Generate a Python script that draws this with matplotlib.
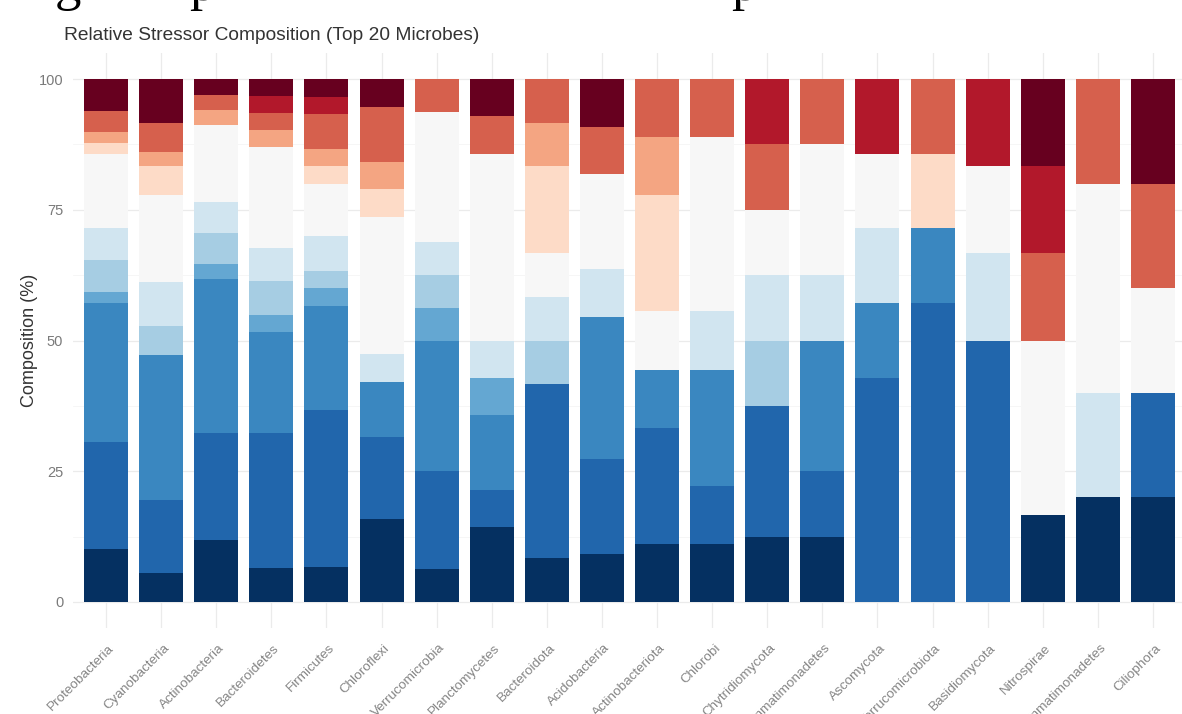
import numpy as np
import matplotlib
matplotlib.use("Agg")
import matplotlib.pyplot as plt
from matplotlib.transforms import blended_transform_factory, ScaledTranslation

microbes = ["Proteobacteria", "Cyanobacteria", "Actinobacteria", "Bacteroidetes",
            "Firmicutes", "Chloroflexi", "Verrucomicrobia", "Planctomycetes",
            "Bacteroidota", "Acidobacteria", "Actinobacteriota", "Chlorobi",
            "Chytridiomycota", "Gemmatimonadetes", "Ascomycota", "Verrucomicrobiota",
            "Basidiomycota", "Nitrospirae", "Gemmatimonadetes", "Ciliophora"]

# Stressor counts per microbe, one list per stressor level (bottom of the stack first)
lvl_01 = [5, 2, 4, 2, 2, 3, 1, 2, 1, 1, 1, 1, 1, 1, 0, 0, 0, 1, 1, 1]
lvl_02 = [10, 5, 7, 8, 9, 3, 3, 1, 4, 2, 2, 1, 2, 1, 3, 4, 3, 0, 0, 1]
lvl_03 = [13, 10, 10, 6, 6, 2, 4, 2, 0, 3, 1, 2, 0, 2, 1, 1, 0, 0, 0, 0]
lvl_04 = [1, 0, 1, 1, 1, 0, 1, 1, 0, 0, 0, 0, 0, 0, 0, 0, 0, 0, 0, 0]
lvl_05 = [3, 2, 2, 2, 1, 0, 1, 0, 1, 0, 0, 0, 1, 0, 0, 0, 0, 0, 0, 0]
lvl_06 = [3, 3, 2, 2, 2, 1, 1, 1, 1, 1, 0, 1, 1, 1, 1, 0, 1, 0, 1, 0]
lvl_07 = [7, 6, 5, 6, 3, 5, 4, 5, 1, 2, 1, 3, 1, 2, 1, 0, 1, 2, 2, 1]
lvl_08 = [1, 2, 0, 0, 1, 1, 0, 0, 2, 0, 2, 0, 0, 0, 0, 1, 0, 0, 0, 0]
lvl_09 = [1, 1, 1, 1, 1, 1, 0, 0, 1, 0, 1, 0, 0, 0, 0, 0, 0, 0, 0, 0]
lvl_10 = [2, 2, 1, 1, 2, 2, 1, 1, 1, 1, 1, 1, 1, 1, 0, 1, 0, 1, 1, 1]
lvl_11 = [0, 0, 0, 1, 1, 0, 0, 0, 0, 0, 0, 0, 1, 0, 1, 0, 1, 1, 0, 0]
lvl_12 = [3, 3, 1, 1, 1, 1, 0, 1, 0, 1, 0, 0, 0, 0, 0, 0, 0, 1, 0, 1]

level_colors = ["#053061", "#2166ac", "#3a87c0", "#64a7d2", "#a6cde3", "#d1e5f0",
                "#f7f7f7", "#fddbc7", "#f4a582", "#d6604d", "#b2182b", "#67001f"]

levels = [lvl_01, lvl_02, lvl_03, lvl_04, lvl_05, lvl_06,
          lvl_07, lvl_08, lvl_09, lvl_10, lvl_11, lvl_12]
counts = np.array(levels, dtype=float)
shares = counts / counts.sum(axis=0) * 100.0

W, H = 1182, 714
fig = plt.figure(figsize=(W / 100, H / 100), dpi=100)
fig.patch.set_facecolor("white")
ax = fig.add_axes([73 / W, 86 / H, 1113 / W, 575 / H])
ax.set_facecolor("white")

x = np.arange(len(microbes))
bottom = np.zeros(len(microbes))
for share, color in zip(shares, level_colors):
    ax.bar(x, share, width=0.8, bottom=bottom, color=color, linewidth=0, zorder=2)
    bottom += share

ax.set_xlim(-0.6, 19.6)
ax.set_ylim(-5, 105)
ax.set_yticks([0, 25, 50, 75, 100])
ax.set_yticks([12.5, 37.5, 62.5, 87.5], minor=True)
ax.set_xticks(x)
ax.grid(which="major", axis="both", color="#ebebeb", linewidth=0.9, zorder=0)
ax.grid(which="minor", axis="y", color="#f3f3f3", linewidth=0.5, zorder=0)
ax.set_axisbelow(True)
for s in ax.spines.values():
    s.set_visible(False)
ax.tick_params(axis="both", which="both", length=0)
ax.tick_params(axis="y", pad=7, labelsize=10.5, labelcolor="#7a7a7a")
ax.set_yticklabels(["0", "25", "50", "75", "100"], family="Liberation Sans")
ax.set_xticklabels([])

# rotated category labels below the panel
label_tr = blended_transform_factory(ax.transData, ax.transAxes) + \
    ScaledTranslation(2 / 100, -14 / 100, fig.dpi_scale_trans)
for xi, name in zip(x, microbes):
    ax.text(xi, 0, name, transform=label_tr, rotation=45, rotation_mode="anchor",
            ha="right", va="top", fontsize=9.7, color="#858585",
            family="Liberation Sans", clip_on=False)

fig.text(64 / W, 1 - 35 / H, "Relative Stressor Composition (Top 20 Microbes)",
         ha="left", va="center", fontsize=13.8, color="#333333", family="Liberation Sans")
fig.text(30 / W, 1 - 340 / H, "Composition (%)", rotation=90, ha="center", va="center",
         fontsize=13, color="#333333", family="Liberation Sans")

# descenders of the caption line above, cut by the top edge
for ch, px in [("g", 55), ("p", 189), ("p", 731)]:
    fig.text(px / W, 1.0, ch, ha="left", va="baseline", fontsize=38,
             family="Liberation Serif", color="black")

fig.savefig("out.png", dpi=100, facecolor="white")
